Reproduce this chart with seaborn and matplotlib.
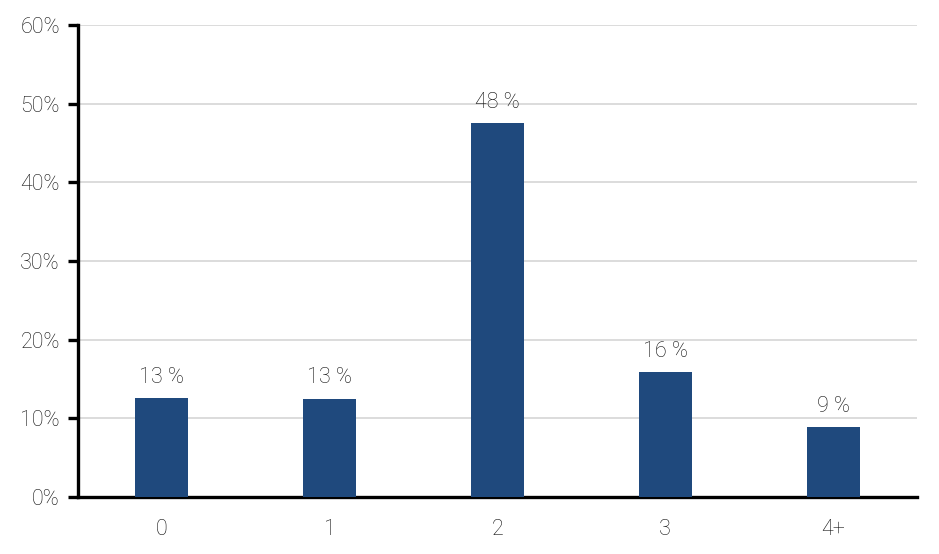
import matplotlib
matplotlib.use("Agg")
import matplotlib.pyplot as plt
import seaborn as sns
import pandas as pd
from matplotlib.ticker import PercentFormatter

# data
categories = ["0", "1", "2", "3", "4+"]
shares = [12.6, 12.5, 47.5, 15.9, 8.9]
labels = ["13 %", "13 %", "48 %", "16 %", "9 %"]

df = pd.DataFrame({"cat": categories, "share": shares})

sns.set_style("white")
plt.rcParams["font.family"] = ["Roboto", "DejaVu Sans"]
plt.rcParams["font.weight"] = "light"

fig = plt.figure(figsize=(9.39, 5.54), dpi=100)
ax = fig.add_axes([78 / 939, 1 - 497 / 554, (917 - 78) / 939, (497 - 25) / 554])

sns.barplot(data=df, x="cat", y="share", color="#1f497d", width=0.315,
            saturation=1, linewidth=0, ax=ax, zorder=3)

for i, (v, t) in enumerate(zip(shares, labels)):
    ax.text(i, v + 1.3, t, ha="center", va="bottom", fontsize=15.5,
            fontweight="light", color="#111111")

ax.set_ylim(0, 60)
ax.set_xlim(-0.5, 4.5)
ax.set_yticks(range(0, 61, 10))
ax.yaxis.set_major_formatter(PercentFormatter(decimals=0))
ax.yaxis.grid(True, color="#d9d9d9", linewidth=1.3, zorder=0)
ax.set_axisbelow(True)
ax.set_xlabel("")
ax.set_ylabel("")

for s in ["top", "right"]:
    ax.spines[s].set_visible(False)
for s in ["left", "bottom"]:
    ax.spines[s].set_color("black")
    ax.spines[s].set_linewidth(2.4)

ax.tick_params(axis="y", which="both", left=True, length=7, width=2.4,
               color="black", labelsize=15.5, labelcolor="#111111", pad=6)
ax.tick_params(axis="x", bottom=False, labelsize=15.5, labelcolor="#111111", pad=12)
for lbl in ax.get_xticklabels() + ax.get_yticklabels():
    lbl.set_fontweight("light")

fig.savefig("out.png", dpi=100)
